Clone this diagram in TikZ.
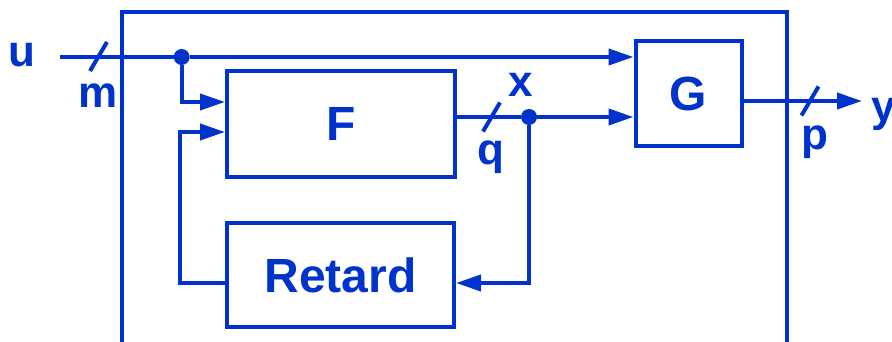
\documentclass[tikz,border=0pt]{standalone}
\usepackage{fontspec}
\setmainfont{Liberation Sans}
\usepackage{xcolor}
\usepackage{tikz}
\usetikzlibrary{
  positioning,
  arrows.meta,
  calc
}
\definecolor{diagblue}{RGB}{0,51,204}
\tikzset{
  >=Latex,
  wire/.style={draw=diagblue,line width=4pt},
  flow/.style={wire,-{Triangle[length=25pt,width=16pt]}},
  block/.style={rectangle,draw=diagblue,line width=4pt,text=diagblue,font=\fontsize{48}{50}\selectfont\bfseries,inner sep=0pt},
  junction/.style={circle,fill=diagblue,inner sep=0pt,minimum size=16pt},
  sig/.style={text=diagblue,font=\fontsize{44}{46}\selectfont\bfseries,inner sep=0pt,anchor=base}
}

\begin{document}
\begin{tikzpicture}[x=1pt,y=-1pt]
    \useasboundingbox (0,0) rectangle (892,342);
    % Cadre
    \draw[wire] (121.5,350) rectangle (786.7,11.7);

    % Blocs
    \node[block,minimum width=228pt,minimum height=106pt] (F) at (341,124) {F};
    \node[block,minimum width=106pt,minimum height=105pt] (G) at (688.5,94) {G};
    \node[block,minimum width=227pt,minimum height=104pt] (R) at (340.5,275) {Retard};

    % Noeuds de jonction
    \coordinate (uin) at (60,57);
    \node[junction] (du) at (181.7,57) {};
    \node[junction] (dx) at (529,117) {};
    \coordinate (yout) at (862,101);

    % Liaisons
    \draw[wire] (uin) -- (du);
    \draw[flow] (du) -- (du -| G.west);
    \draw[flow] (du) |- ([yshift=22pt]F.west);
    \draw[wire] (F.east |- dx) -- (dx);
    \draw[flow] (dx) -- (dx -| G.west);
    \draw[flow] (dx) |- ([yshift=-8pt]R.east);
    \draw[flow] ([yshift=-8pt]R.west) -| ([xshift=-45.3pt,yshift=-8pt]F.west) -- ([yshift=-8pt]F.west);
    \draw[flow] ([yshift=-7pt]G.east) -- (yout);

    % Barres de bus
    \foreach \sx/\sy in {98.5/56.5,491.5/117,810/101}
        \draw[wire] (\sx,\sy) +(-8.5,14.5) -- +(8.5,-14.5);

    % Etiquettes
    \node[sig] (lu) at (22,67) {u};
    \node[sig] (lm) at (98,108) {m};
    \node[sig] (lx) at (521,97) {x};
    \node[sig] (lq) at (491,165) {q};
    \node[sig] (lp) at (815,150) {p};
    \node[sig,anchor=base west] (ly) at (871,122) {y};
\end{tikzpicture}
\end{document}
